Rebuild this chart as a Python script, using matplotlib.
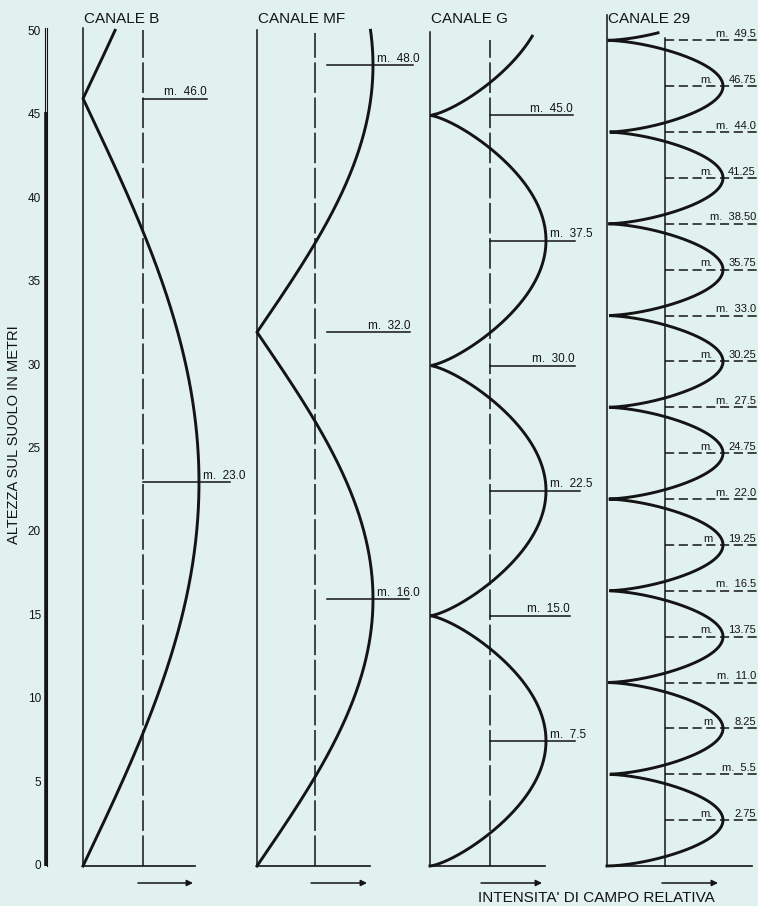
import numpy as np
import matplotlib
matplotlib.use("Agg")
import matplotlib.pyplot as plt

plt.rcParams['font.family'] = ['Liberation Sans', 'DejaVu Sans']

# ---------------- data ----------------
panel_titles = ["CANALE B", "CANALE MF", "CANALE G", "CANALE 29"]
# half-wavelength spacing between field minima (m)
node_spacing = [46.0, 32.0, 15.0, 5.5]
# marked heights and their labels (peak = maximum, node = minimum)
marks_B = [46.0, 23.0]
labels_B = ["m.  46.0", "m.  23.0"]
kinds_B = ["node", "peak"]

marks_MF = [48.0, 32.0, 16.0]
labels_MF = ["m.  48.0", "m.  32.0", "m.  16.0"]
kinds_MF = ["peak", "node", "peak"]

marks_G = [45.0, 37.5, 30.0, 22.5, 15.0, 7.5]
labels_G = ["m.  45.0", "m.  37.5", "m.  30.0", "m.  22.5", "m.  15.0", "m.  7.5"]
kinds_G = ["node", "peak", "node", "peak", "node", "peak"]

marks_29 = [49.5, 46.75, 44.0, 41.25, 38.5, 35.75, 33.0, 30.25, 27.5,
            24.75, 22.0, 19.25, 16.5, 13.75, 11.0, 8.25, 5.5, 2.75]
labels_29 = ["m.  49.5", "m.  46.75", "m.  44.0", "m.  41.25", "m.  38.50",
             "m.  35.75", "m.  33.0", "m.  30.25", "m.  27.5", "m.  24.75",
             "m.  22.0", "m  19.25", "m.  16.5", "m.  13.75", "m.  11.0",
             "m  8.25", "m.  5.5", "m.  2.75"]
kinds_29 = ["node", "peak"] * 9

y_ticks = [0, 5, 10, 15, 20, 25, 30, 35, 40, 45, 50]
y_label = "ALTEZZA SUL SUOLO IN METRI"
x_label = "INTENSITA' DI CAMPO RELATIVA"

# ---------------- layout / style ----------------
W, H = 758, 906
PX0 = 866.0          # pixel row of height 0
PPM = 16.68          # pixels per metre
bg = "#e1f1ef"
ink = "#141414"

fig = plt.figure(figsize=(W / 100, H / 100), dpi=100)
fig.patch.set_facecolor(bg)
ax = fig.add_axes([0, 0, 1, 1])
ax.set_facecolor(bg)
ax.set_xlim(0, W)
ax.set_ylim((PX0 - H) / PPM, PX0 / PPM)
ax.axis('off')


def h(py):
    return (PX0 - py) / PPM


# y axis ruler
ax.plot([45.5, 45.5], [0, 45.2], color=ink, lw=2.6, solid_capstyle='butt')
ax.plot([47.3, 47.3], [0, h(28)], color=ink, lw=0.8)
ax.plot([45.0, 45.0], [45.2, h(28)], color=ink, lw=0.8)
for v in y_ticks:
    ax.text(41, v, str(v), ha='right', va='center', fontsize=8.5, color=ink)
ax.text(14, h(435), y_label, rotation=90, ha='center', va='center',
        fontsize=10.5, color=ink)

panels = [
    dict(base=83, mid=143, left_top=h(28), mid_top=h(30), curve_top=50.1,
         p=1.0, base_end=195, arrow=(138, 193), mid_dashed=True,
         marks=marks_B, labels=labels_B, kinds=kinds_B,
         line_start=143, line_end=[207, 230]),
    dict(base=257, mid=315, left_top=h(30), mid_top=h(33), curve_top=50.1,
         p=1.0, base_end=370, arrow=(311, 367), mid_dashed=True,
         marks=marks_MF, labels=labels_MF, kinds=kinds_MF,
         line_start=327, line_end=[413, 410, 409]),
    dict(base=430, mid=490, left_top=h(32), mid_top=h(40), curve_top=49.75,
         p=0.72, base_end=545, arrow=(481, 542), mid_dashed=True,
         marks=marks_G, labels=labels_G, kinds=kinds_G,
         line_start=490, line_end=[573, 575, 575, 580, 570, 575]),
    dict(base=607, mid=665, left_top=h(15), mid_top=h(38), curve_top=49.95,
         p=0.6, base_end=752, arrow=(662, 718), mid_dashed=False,
         marks=marks_29, labels=labels_29, kinds=kinds_29,
         line_start=665, line_end=None),
]
AMP = 116.0

for i, pnl in enumerate(panels):
    b = pnl['base']
    # title
    ax.text(b + 1, h(23), panel_titles[i], ha='left', va='baseline',
            fontsize=11, color=ink)
    # left solid line
    ax.plot([b, b], [0, pnl['left_top']], color=ink, lw=1.1)
    # middle reference line
    ls = (0, (20, 3)) if pnl['mid_dashed'] else '-'
    ax.plot([pnl['mid'], pnl['mid']], [0, pnl['mid_top']], color=ink,
            lw=1.1, linestyle=ls)
    # base line
    ax.plot([b, pnl['base_end']], [0, 0], color=ink, lw=1.2)
    # arrow
    a0, a1 = pnl['arrow']
    ax.annotate('', xy=(a1, h(883)), xytext=(a0, h(883)),
                arrowprops=dict(arrowstyle='-|>', lw=1.1, color=ink,
                                mutation_scale=9, shrinkA=0, shrinkB=0))
    # field curve
    hh = np.linspace(0, pnl['curve_top'], 6000)
    inten = np.abs(np.sin(np.pi * hh / node_spacing[i])) ** pnl['p']
    ax.plot(b + AMP * inten, hh, color=ink, lw=2.1, solid_joinstyle='miter')
    # markers
    for j, (mh, lab, kind) in enumerate(zip(pnl['marks'], pnl['labels'],
                                             pnl['kinds'])):
        if i < 3:
            xe = pnl['line_end'][j]
            ax.plot([pnl['line_start'], xe], [mh, mh], color=ink, lw=1.1)
            if kind == 'peak':
                ax.text(b + AMP + 4, mh + 0.2, lab, ha='left',
                        va='baseline', fontsize=8.5, color=ink)
            else:
                ax.text(xe, mh + 0.2, lab, ha='right', va='baseline',
                        fontsize=8.5, color=ink)
        else:
            ax.plot([pnl['line_start'], 757], [mh, mh], color=ink, lw=1.1,
                    linestyle=(0, (6, 3)))
            if kind == 'peak':
                pre, num = lab.split()
                ax.text(713, mh + 0.2, pre, ha='right', va='baseline',
                        fontsize=8, color=ink)
                ax.text(756, mh + 0.2, num, ha='right', va='baseline',
                        fontsize=8, color=ink)
            else:
                ax.text(756, mh + 0.2, lab, ha='right', va='baseline',
                        fontsize=8, color=ink)

ax.text(478, h(902), x_label, ha='left', va='baseline', fontsize=11,
        color=ink)

fig.savefig("out.png", dpi=100, facecolor=bg)
